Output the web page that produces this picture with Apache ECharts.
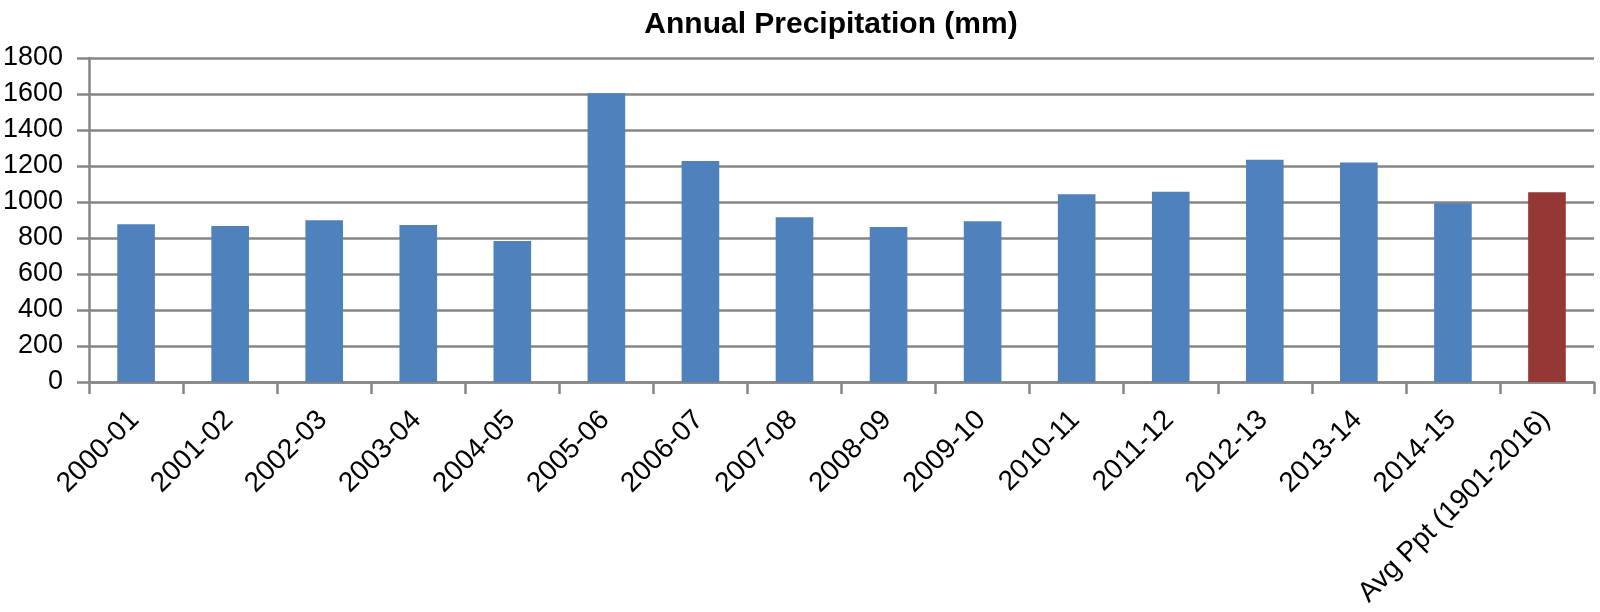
<!DOCTYPE html>
<html>
<head>
<meta charset="utf-8">
<style>html,body{margin:0;padding:0;background:#fff}#c{width:1600px;height:612px}</style>
<script src="https://cdn.jsdelivr.net/npm/echarts@6/dist/echarts.min.js"></script>
</head>
<body>
<div id="c"></div>
<script>
const categories = ["2000-01","2001-02","2002-03","2003-04","2004-05","2005-06","2006-07","2007-08","2008-09","2009-10","2010-11","2011-12","2012-13","2013-14","2014-15","Avg Ppt (1901-2016)"];
const precipitation = [876, 867, 898, 872, 783, 1604, 1228, 915, 861, 893, 1043, 1057, 1235, 1220, 993, 1054];
const yTicks = [0, 200, 400, 600, 800, 1000, 1200, 1400, 1600, 1800];
const highlightIndex = 15;

const chart = echarts.init(document.getElementById('c'), null, {renderer: 'canvas'});
const font = 'Liberation Sans, Arial, sans-serif';
const gridGray = '#868686';
chart.setOption({
  animation: false,
  backgroundColor: '#fff',
  title: {
    text: 'Annual Precipitation (mm)',
    left: 826, top: 5, textAlign: 'center',
    textStyle: {fontFamily: font, fontWeight: 'bold', fontSize: 30, color: '#000'}
  },
  grid: {left: 89, right: 6, top: 58, bottom: 230, containLabel: false},
  xAxis: {
    type: 'category',
    data: categories,
    axisLine: {lineStyle: {color: gridGray, width: 2.5}},
    axisTick: {show: true, length: 12, lineStyle: {color: gridGray, width: 2.5}},
    axisLabel: {rotate: 45, margin: 32, padding: [0, 2, 0, 0], interval: 0, color: '#000', fontFamily: font, fontSize: 28}
  },
  yAxis: {
    type: 'value',
    min: yTicks[0], max: yTicks[yTicks.length - 1], interval: 200,
    axisLine: {show: true, lineStyle: {color: gridGray, width: 2.5}},
    axisTick: {show: true, length: 12, lineStyle: {color: gridGray, width: 2.5}},
    splitLine: {show: true, lineStyle: {color: gridGray, width: 2.5}},
    axisLabel: {margin: 26, color: '#000', fontFamily: font, fontSize: 27, formatter: v => String(v)}
  },
  series: [{
    type: 'bar',
    barWidth: '40%',
    data: precipitation.map((v, i) => ({
      value: v,
      itemStyle: {color: i === highlightIndex ? '#953735' : '#4F81BD'}
    }))
  }]
});
</script>
</body>
</html>
